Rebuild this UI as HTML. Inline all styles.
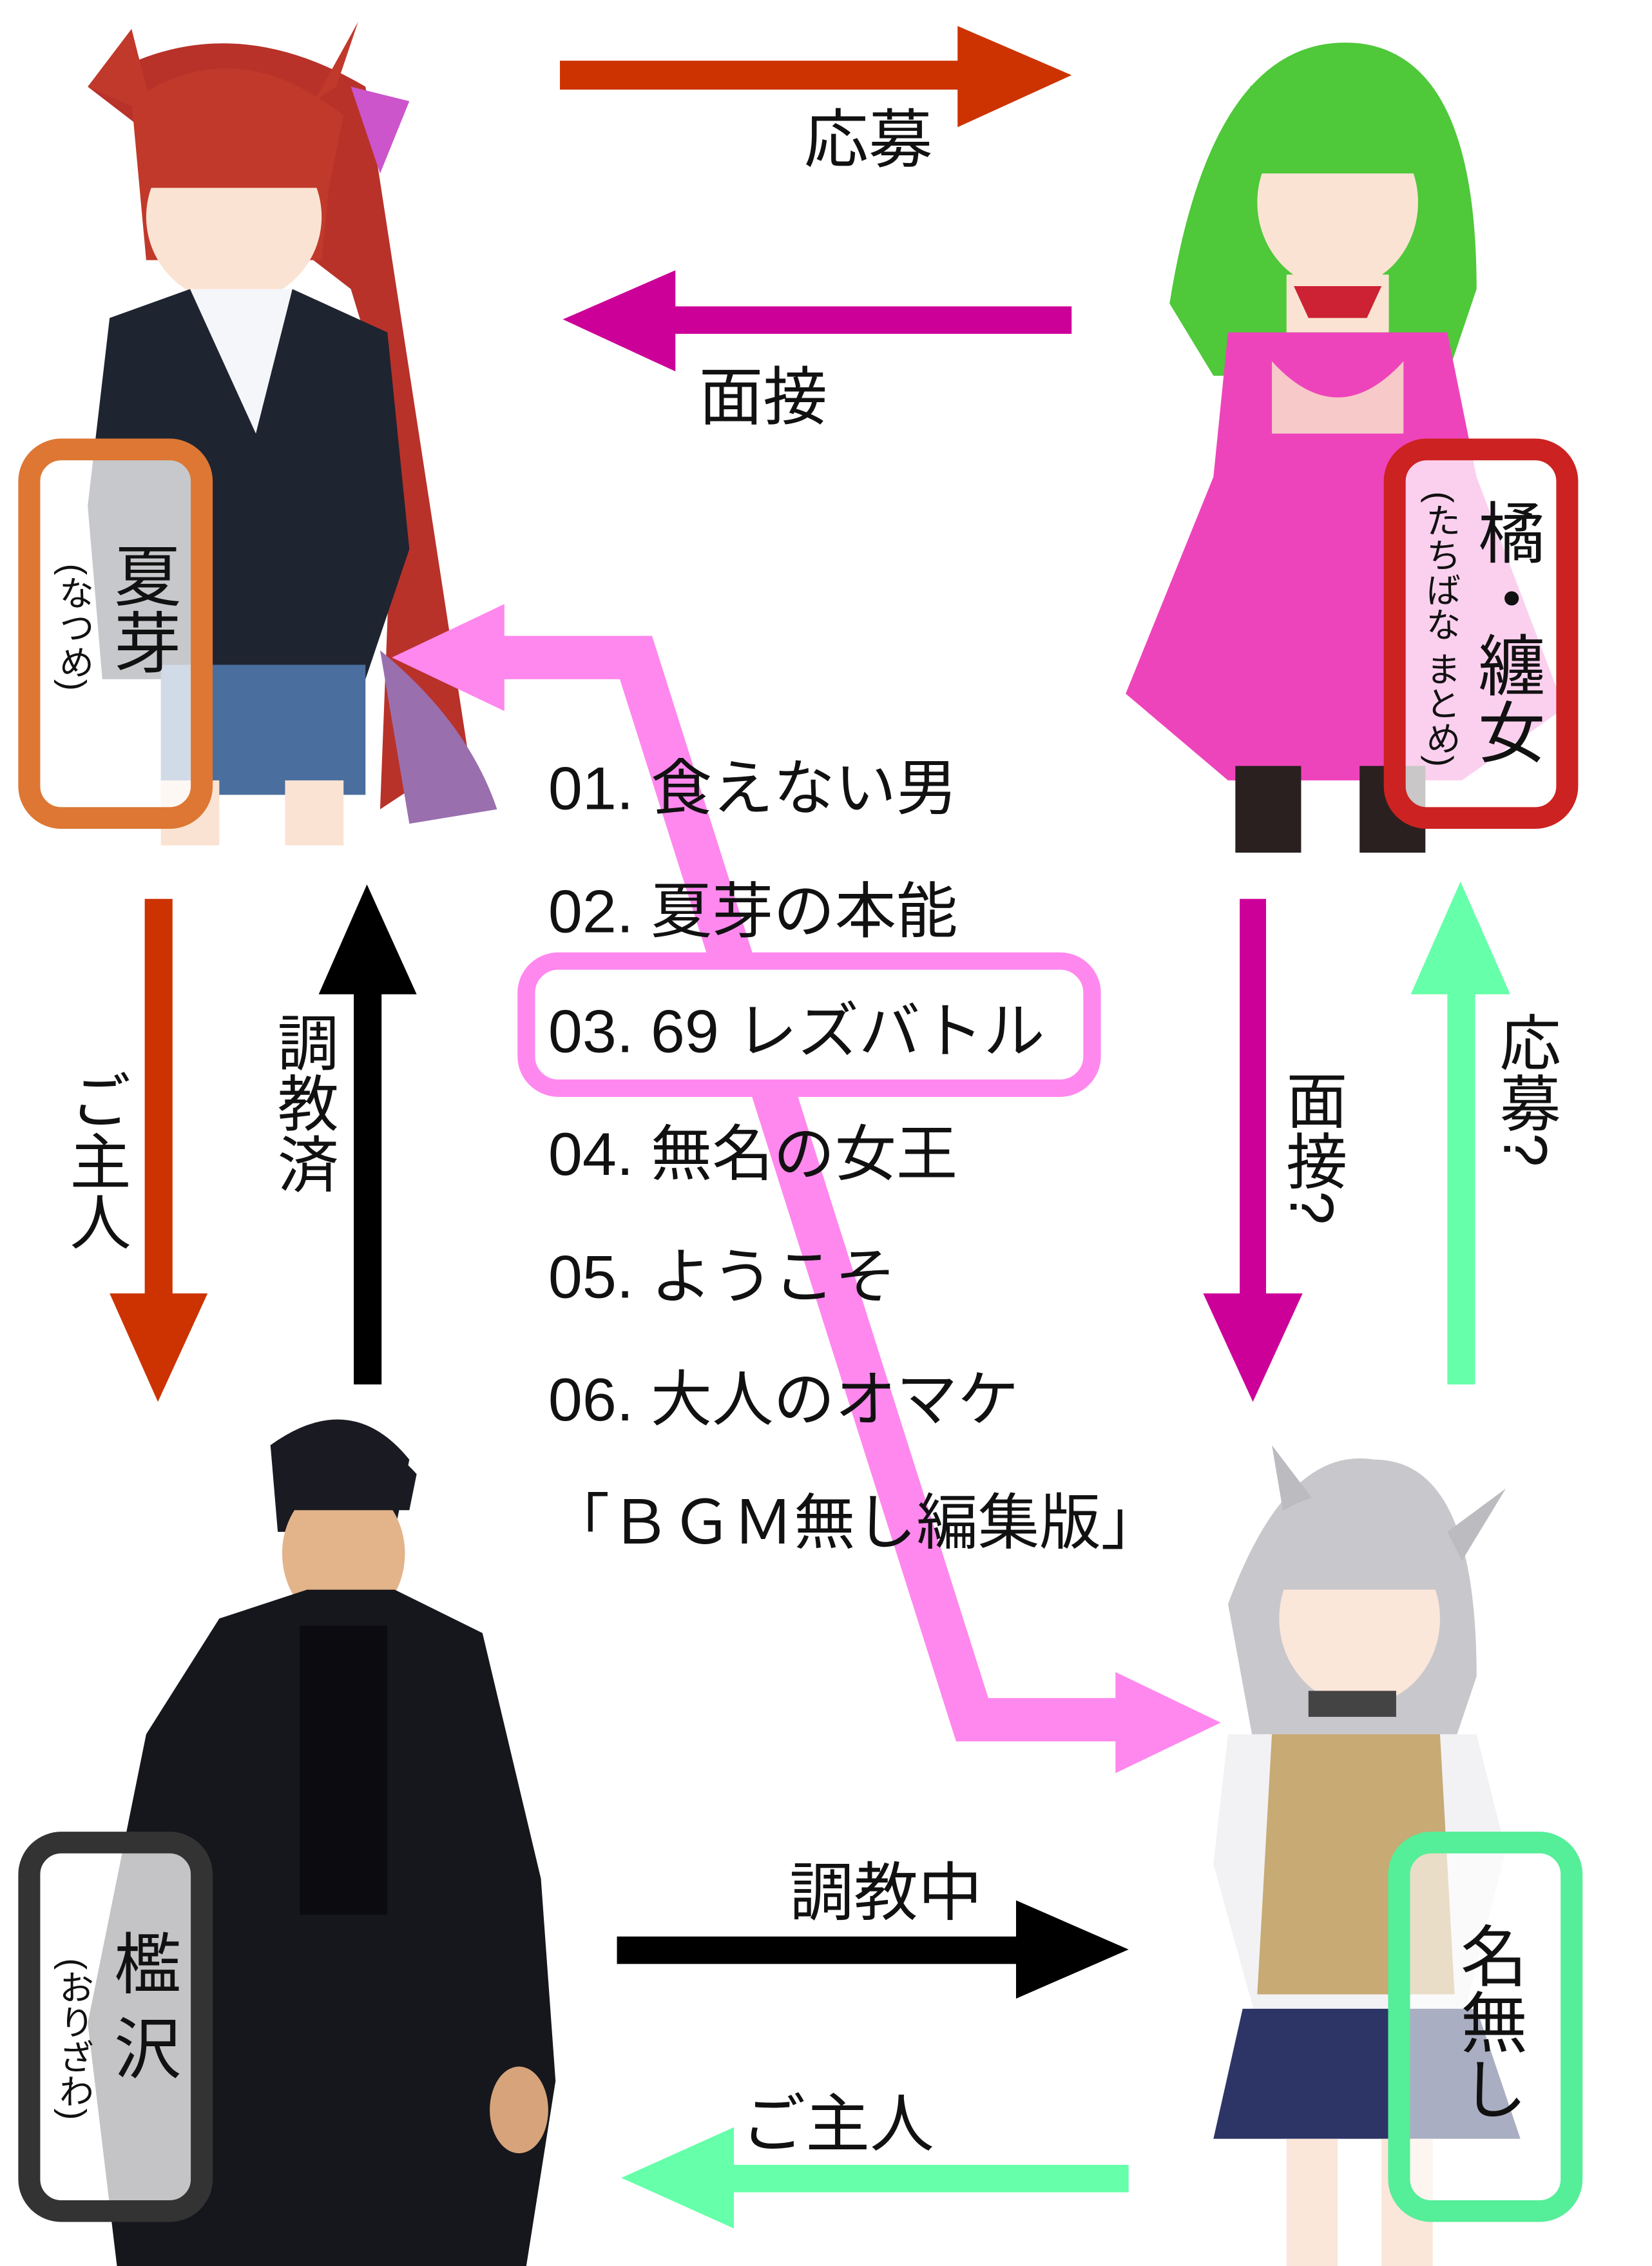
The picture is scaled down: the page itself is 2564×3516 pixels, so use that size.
<!DOCTYPE html>
<html><head><meta charset="utf-8">
<style>
html,body{margin:0;padding:0;background:#fff;}
svg{display:block;}
text{font-family:"Liberation Sans","Noto Sans CJK JP",sans-serif;}
</style></head>
<body>
<svg width="2564" height="3516" viewBox="0 0 1130 1568" preserveAspectRatio="none" xmlns="http://www.w3.org/2000/svg">
<rect width="1130" height="1568" fill="#fff"/>

<!-- Character: top-left red-haired girl -->
<g>
<path d="M60,60 Q150,0 250,60 L320,520 L260,560 L270,300 L240,200 Z" fill="#b8322a"/>
<path d="M90,70 Q150,30 230,80 L220,180 L100,180 Z" fill="#c0392b"/>
<ellipse cx="160" cy="150" rx="60" ry="60" fill="#fbe3d3"/>
<path d="M90,70 Q160,20 235,80 L225,130 L100,130 Z" fill="#c0392b"/>
<path d="M60,60 L90,20 L105,80 Z M230,60 L245,15 L215,70 Z" fill="#c0392b"/>
<path d="M240,60 L280,70 L260,120 Z" fill="#cc55cc"/>
<path d="M75,220 L130,200 L200,200 L265,230 L280,380 L250,470 L70,470 L60,350 Z" fill="#1e2430"/>
<path d="M130,200 L200,200 L175,300 Z" fill="#f4f6fa"/>
<rect x="110" y="460" width="140" height="90" fill="#4a6e9e"/>
<rect x="110" y="540" width="40" height="45" fill="#fbe3d3"/>
<rect x="195" y="540" width="40" height="45" fill="#fbe3d3"/>
<path d="M260,450 Q320,500 340,560 L280,570 Z" fill="#9a6fae"/>
</g>

<!-- Character: top-right green-haired girl -->
<g>
<path d="M800,210 Q830,20 930,30 Q1010,40 1010,200 L990,260 L830,260 Z" fill="#4fc83a"/>
<ellipse cx="915" cy="140" rx="55" ry="60" fill="#fbe3d3"/>
<path d="M855,60 Q920,20 975,70 L970,120 L860,120 Z" fill="#4fc83a"/>
<rect x="880" y="190" width="70" height="40" fill="#fbe3d3"/>
<path d="M885,198 L945,198 L935,220 L895,220 Z" fill="#cc2233"/>
<path d="M840,230 L990,230 L1010,330 L1070,490 L1000,540 L840,540 L770,480 L830,330 Z" fill="#ee44bb"/>
<path d="M870,250 Q915,300 960,250 L960,300 L870,300 Z" fill="#f7c9c9"/>
<rect x="845" y="530" width="45" height="60" fill="#2a2020"/>
<rect x="930" y="530" width="45" height="60" fill="#2a2020"/>
</g>

<!-- Character: bottom-left man -->
<g>
<path d="M185,1000 Q240,960 280,1010 L270,1060 L190,1060 Z" fill="#1a1a22"/>
<ellipse cx="235" cy="1075" rx="42" ry="50" fill="#e3b48a"/>
<path d="M185,1000 Q240,970 285,1020 L280,1045 L190,1045 Z" fill="#1a1a22"/>
<path d="M150,1120 L210,1100 L270,1100 L330,1130 L370,1300 L380,1440 L360,1568 L80,1568 L60,1400 L100,1200 Z" fill="#15171c"/>
<rect x="205" y="1125" width="60" height="200" fill="#0c0c10"/>
<ellipse cx="355" cy="1460" rx="20" ry="30" fill="#d6a37a"/>
</g>

<!-- Character: bottom-right gray-haired girl -->
<g>
<path d="M840,1110 Q880,1000 940,1010 Q1010,1010 1010,1160 L990,1220 L860,1220 Z" fill="#c8c8cc"/>
<path d="M870,1000 L900,1040 L880,1060 Z M1030,1030 L990,1060 L1000,1080 Z" fill="#bbbbc0"/>
<ellipse cx="930" cy="1120" rx="55" ry="60" fill="#fbe6da"/>
<path d="M870,1050 Q930,1010 990,1060 L985,1100 L870,1100 Z" fill="#c8c8cc"/>
<rect x="895" y="1170" width="60" height="18" fill="#444"/>
<path d="M840,1200 L1010,1200 L1030,1280 L1000,1400 L860,1400 L830,1290 Z" fill="#f2f2f5"/>
<path d="M870,1200 L985,1200 L995,1380 L860,1380 Z" fill="#c7aa74"/>
<path d="M850,1390 L1010,1390 L1040,1480 L830,1480 Z" fill="#2c3566"/>
<rect x="880" y="1480" width="35" height="88" fill="#fbe6da"/>
<rect x="945" y="1480" width="35" height="88" fill="#fbe6da"/>
</g>

<!-- Pink connector path -->
<polyline points="342,455 435,455 665,1190 768,1190" fill="none" stroke="#ff88ee" stroke-width="30" stroke-linejoin="miter"/>
<polygon points="268,455 345,418 345,492" fill="#ff88ee"/>
<polygon points="835,1192 763,1157 763,1227" fill="#ff88ee"/>

<!-- Top arrows -->
<rect x="383" y="42" width="280" height="20" fill="#cc3300"/>
<polygon points="733,52 655,18 655,88" fill="#cc3300"/>
<text x="550" y="112" font-size="44" fill="#111">応募</text>

<rect x="455" y="212" width="278" height="19" fill="#cc0099"/>
<polygon points="385,221 462,187 462,257" fill="#cc0099"/>
<text x="478" y="290" font-size="44" fill="#111">面接</text>

<!-- Vertical arrows -->
<rect x="99" y="622" width="19" height="280" fill="#cc3300"/>
<polygon points="108,970 75,895 142,895" fill="#cc3300"/>
<text font-size="42" fill="#111" writing-mode="tb" x="65" y="740" style="writing-mode:vertical-rl">ご主人</text>

<rect x="242" y="680" width="19" height="278" fill="#000"/>
<polygon points="251,612 218,688 285,688" fill="#000"/>
<text font-size="42" fill="#111" x="207" y="700" style="writing-mode:vertical-rl">調教済</text>

<rect x="848" y="622" width="18" height="280" fill="#cc0099"/>
<polygon points="857,970 823,895 891,895" fill="#cc0099"/>
<text font-size="42" fill="#111" x="897" y="740" style="writing-mode:vertical-rl">面接?</text>

<rect x="990" y="680" width="19" height="278" fill="#66ffaa"/>
<polygon points="999,610 965,688 1033,688" fill="#66ffaa"/>
<text font-size="42" fill="#111" x="1043" y="700" style="writing-mode:vertical-rl">応募?</text>

<!-- Bottom arrows -->
<rect x="422" y="1340" width="285" height="19" fill="#000"/>
<polygon points="772,1349 695,1315 695,1383" fill="#000"/>
<text x="540" y="1325" font-size="44" fill="#111">調教中</text>

<rect x="495" y="1498" width="277" height="19" fill="#66ffaa"/>
<polygon points="425,1507 502,1472 502,1542" fill="#66ffaa"/>
<text x="507" y="1485" font-size="44" fill="#111">ご主人</text>

<!-- Track list -->
<rect x="360" y="665" width="387" height="88" rx="22" fill="#fff" stroke="#ff88ee" stroke-width="12"/>
<g font-size="42" fill="#111">
<text x="375" y="560">01. 食えない男</text>
<text x="375" y="645">02. 夏芽の本能</text>
<text x="375" y="728">03. 69 レズバトル</text>
<text x="375" y="813">04. 無名の女王</text>
<text x="375" y="898">05. ようこそ</text>
<text x="375" y="983">06. 大人のオマケ</text>
<text x="375" y="1068">「ＢＧＭ無し編集版」</text>
</g>

<!-- Name boxes -->
<rect x="20" y="311" width="118" height="255" rx="22" fill="rgba(255,255,255,0.75)" stroke="#dd7733" stroke-width="15"/>
<text font-size="46" fill="#111" x="97" y="375" style="writing-mode:vertical-rl">夏芽</text>
<text font-size="24" fill="#111" x="50" y="390" style="writing-mode:vertical-rl">(なつめ)</text>

<rect x="954" y="311" width="118" height="255" rx="22" fill="rgba(255,255,255,0.75)" stroke="#cc2222" stroke-width="15"/>
<text font-size="46" fill="#111" x="1030" y="345" style="writing-mode:vertical-rl">橘・纏女</text>
<text font-size="24" fill="#111" x="985" y="340" style="writing-mode:vertical-rl">(たちばな まとめ)</text>

<rect x="20" y="1275" width="118" height="255" rx="22" fill="rgba(255,255,255,0.75)" stroke="#333" stroke-width="15"/>
<text font-size="46" fill="#111" x="97" y="1335" style="writing-mode:vertical-rl">檻 沢</text>
<text font-size="24" fill="#111" x="50" y="1355" style="writing-mode:vertical-rl">(おりざわ)</text>

<rect x="957" y="1275" width="118" height="255" rx="22" fill="rgba(255,255,255,0.6)" stroke="#55ee99" stroke-width="15"/>
<text font-size="46" fill="#111" x="1018" y="1330" style="writing-mode:vertical-rl">名無し</text>
</svg>
</body></html>
